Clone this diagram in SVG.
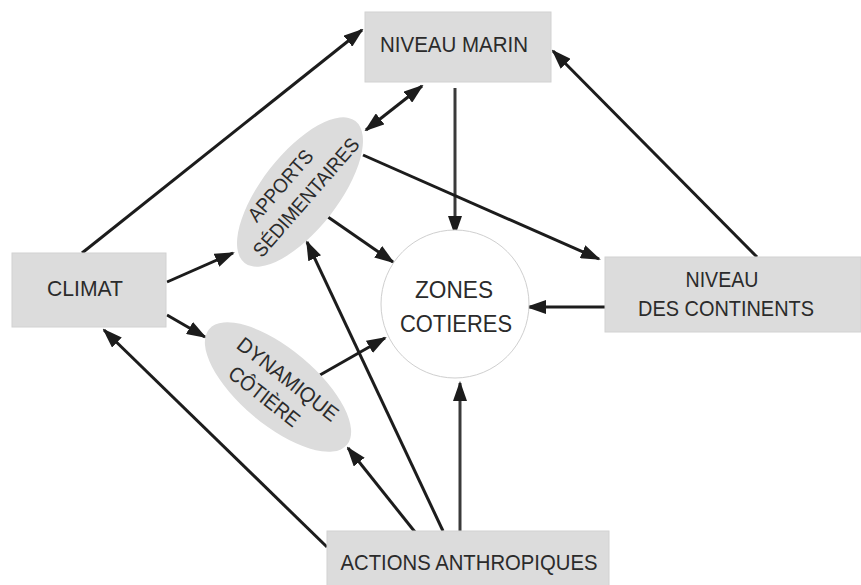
<svg xmlns="http://www.w3.org/2000/svg" width="861" height="585" viewBox="0 0 861 585">
<style>
.box{fill:#dcdcdc;stroke:#d2d2d2;stroke-width:1}
.ell{fill:#dcdcdc;stroke:none}
.t{font-family:"Liberation Sans",Arial,sans-serif;font-size:22px;fill:#2b2b2b;text-anchor:middle}
.c{stroke:#1c1c1c;stroke-width:3;fill:none;marker-end:url(#ah)}
</style>
<defs>
<marker id="ah" markerUnits="userSpaceOnUse" viewBox="0 0 20 14" markerWidth="20" markerHeight="14" refX="18" refY="7" orient="auto-start-reverse">
<path d="M0,0 L20,7 L0,14 Z" fill="#1c1c1c"/>
</marker>
</defs>
<rect width="861" height="585" fill="#ffffff"/>
<g id="connectors">
<line class="c" x1="82" y1="253" x2="362" y2="30"/>
<line class="c" x1="757" y1="257" x2="553" y2="51"/>
<line class="c" x1="422" y1="86" x2="366" y2="130" style="marker-start:url(#ah)"/>
<line class="c" x1="455" y1="88" x2="455" y2="234" style="stroke:#3a3a3a"/>
<line class="c" x1="363" y1="155" x2="599" y2="259"/>
<line class="c" x1="328" y1="217" x2="393" y2="262"/>
<line class="c" x1="167" y1="282" x2="233" y2="253"/>
<line class="c" x1="167" y1="315" x2="205" y2="337"/>
<line class="c" x1="320" y1="375" x2="385" y2="338"/>
<line class="c" x1="327" y1="547" x2="104" y2="330"/>
<line class="c" x1="415" y1="532" x2="348" y2="448"/>
<line class="c" x1="443" y1="531" x2="307" y2="242"/>
<line class="c" x1="460" y1="531" x2="460" y2="383" style="stroke:#3a3a3a"/>
<line class="c" x1="605" y1="307" x2="528" y2="307"/>
</g>
<g id="niveau-marin">
<rect class="box" x="365" y="12" width="186" height="70"/>
<text class="t" x="454" y="52" textLength="148" lengthAdjust="spacingAndGlyphs">NIVEAU MARIN</text>
</g>
<g id="climat">
<rect class="box" x="12" y="253" width="154" height="74"/>
<text class="t" x="85" y="296" textLength="76" lengthAdjust="spacingAndGlyphs">CLIMAT</text>
</g>
<g id="niveau-continents">
<rect class="box" x="605" y="257" width="256" height="75"/>
<text class="t" x="722" y="287" textLength="73" lengthAdjust="spacingAndGlyphs">NIVEAU</text>
<text class="t" x="726" y="316" textLength="176" lengthAdjust="spacingAndGlyphs">DES CONTINENTS</text>
</g>
<g id="actions-anthropiques">
<rect class="box" x="327" y="531" width="282" height="60"/>
<text class="t" x="469" y="570" textLength="257" lengthAdjust="spacingAndGlyphs">ACTIONS ANTHROPIQUES</text>
</g>
<g id="zones-cotieres">
<circle cx="455" cy="304" r="74" fill="#ffffff" stroke="#cfcfcf" stroke-width="1"/>
<text class="t" x="454" y="298" style="font-size:24px" textLength="78" lengthAdjust="spacingAndGlyphs">ZONES</text>
<text class="t" x="456" y="332" style="font-size:24px" textLength="112" lengthAdjust="spacingAndGlyphs">COTIERES</text>
</g>
<g id="apports-sedimentaires">
<ellipse class="ell" cx="0" cy="0" rx="90" ry="38" transform="translate(300,192) rotate(-52)"/>
<g transform="translate(300,192) rotate(-49)">
<text class="t" x="-8" y="-12" style="font-size:20px" textLength="88" lengthAdjust="spacingAndGlyphs">APPORTS</text>
<text class="t" x="0" y="15" style="font-size:20px" textLength="150" lengthAdjust="spacingAndGlyphs">SÉDIMENTAIRES</text>
</g>
</g>
<g id="dynamique-cotiere">
<ellipse class="ell" cx="0" cy="0" rx="90" ry="38" transform="translate(278,387) rotate(40)"/>
<g transform="translate(278,387) rotate(38)">
<text class="t" x="3" y="-5" style="font-size:21px" textLength="122" lengthAdjust="spacingAndGlyphs">DYNAMIQUE</text>
<text class="t" x="-5" y="23" style="font-size:21px" textLength="84" lengthAdjust="spacingAndGlyphs">CÔTIÈRE</text>
</g>
</g>
</svg>
